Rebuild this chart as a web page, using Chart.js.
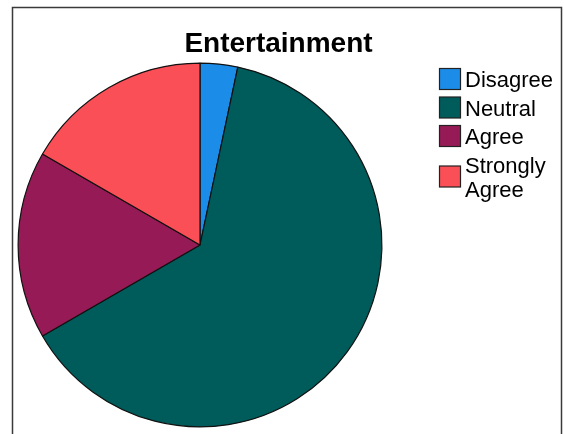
<!DOCTYPE html>
<html>
<head>
<meta charset="utf-8">
<script src="https://cdn.jsdelivr.net/npm/chart.js@4/dist/chart.umd.min.js"></script>
<style>
    html, body { margin: 0; padding: 0; background: #fff; }
    #wrap { position: relative; width: 564px; height: 434px; }
</style>
</head>
<body>
<div id="wrap"><canvas id="pie"></canvas></div>
<script>
// ── Data ─────────────────────────────────────────────────────────────────────

const TITLE = 'Entertainment';
const categories = ['Disagree', 'Neutral', 'Agree', 'Strongly Agree'];
const legendLines = [['Disagree'], ['Neutral'], ['Agree'], ['Strongly', 'Agree']];
const counts = [1, 19, 5, 5];
const sliceColors = ['#1b8de8', '#005b5b', '#961a55', '#fb4f58'];

// ── Frame, title and legend ──────────────────────────────────────────────────

const FONT = '"Liberation Sans", Arial, sans-serif';

const decorPlugin = {
    id: 'decor',
    afterDraw(chart) {
        const ctx = chart.ctx;
        ctx.save();

        // outer frame (bottom edge runs off the canvas)
        ctx.strokeStyle = '#3a3a3a';
        ctx.lineWidth = 1.5;
        ctx.beginPath();
        ctx.moveTo(12.5, 440);
        ctx.lineTo(12.5, 7.5);
        ctx.lineTo(561.5, 7.5);
        ctx.lineTo(561.5, 440);
        ctx.stroke();

        // title
        ctx.fillStyle = '#000';
        ctx.font = `bold 28px ${FONT}`;
        ctx.textAlign = 'center';
        ctx.textBaseline = 'alphabetic';
        ctx.fillText(TITLE, 278.5, 52);

        // legend
        const boxX = 439.5, box = 21, lineH = 24, gap = 4.5;
        let y = 67;
        ctx.font = `22px ${FONT}`;
        ctx.textAlign = 'left';
        legendLines.forEach((lines, i) => {
            const h = lines.length * lineH;
            const cy = y + h / 2;
            ctx.fillStyle = sliceColors[i];
            ctx.fillRect(boxX, cy - box / 2, box, box);
            ctx.strokeStyle = '#222';
            ctx.lineWidth = 1.2;
            ctx.strokeRect(boxX, cy - box / 2, box, box);
            ctx.fillStyle = '#000';
            lines.forEach((t, j) => {
                ctx.fillText(t, 465, y + j * lineH + 20);
            });
            y += h + gap;
        });

        ctx.restore();
    },
};

// ── Chart ────────────────────────────────────────────────────────────────────

new Chart(document.getElementById('pie'), {
    type: 'pie',
    data: {
        labels: categories,
        datasets: [{
            data: counts,
            backgroundColor: sliceColors,
            borderColor: '#111',
            borderWidth: 1.2,
        }],
    },
    options: {
        responsive: true,
        maintainAspectRatio: false,
        animation: false,
        layout: {
            padding: { left: 17.5, right: 181.5, top: 62.5, bottom: 6.5 },
        },
        plugins: {
            legend: { display: false },
            title: { display: false },
            tooltip: { enabled: false },
        },
    },
    plugins: [decorPlugin],
});
</script>
</body>
</html>
